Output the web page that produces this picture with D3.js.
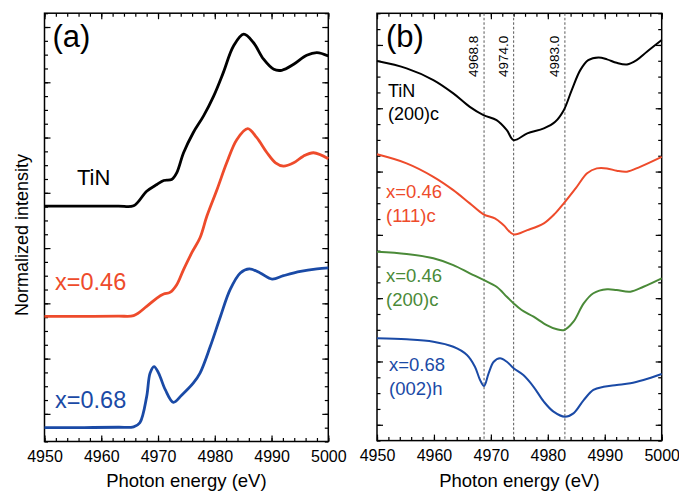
<!DOCTYPE html>
<html>
<head>
<meta charset="utf-8">
<script src="https://d3js.org/d3.v7.min.js"></script>
<style>
    body { margin: 0; background: #fff; }
    text { font-family: "Liberation Sans", Arial, sans-serif; }
</style>
</head>
<body>
<div id="my_dataviz"></div>

<script>
    // ---- data ----
    // panel (a): XANES spectra, offset for clarity
    const eTiN_a   = [4950, 4957, 4963, 4965.7, 4968.0, 4969.8, 4971.0, 4972.4, 4973.3, 4974.5, 4976.2, 4978.0, 4979.8, 4981.5, 4983.3, 4985.1, 4986.8, 4988.6, 4990.4, 4991.8, 4993.9, 4996.2, 4998.0, 5000]
    const iTiN_a   = [17.03, 17.03, 17.04, 17.06, 18.11, 18.60, 18.89, 18.96, 19.45, 20.90, 22.35, 23.55, 25.00, 26.70, 28.63, 29.48, 28.88, 27.67, 26.94, 26.87, 27.30, 27.96, 28.15, 27.90]
    const eX046_a  = [4950, 4957, 4963, 4965.7, 4968.0, 4969.8, 4971.0, 4972.1, 4973.3, 4974.5, 4976.0, 4977.4, 4978.6, 4980.4, 4982.1, 4983.9, 4985.8, 4987.4, 4989.2, 4990.7, 4992.1, 4993.9, 4995.6, 4997.4, 5000]
    const iX046_a  = [9.05, 9.06, 9.08, 9.11, 9.78, 10.38, 10.67, 10.79, 11.35, 12.44, 13.70, 14.75, 16.30, 18.24, 20.17, 21.86, 22.64, 21.99, 20.90, 20.17, 19.93, 20.17, 20.65, 20.90, 20.46]
    const eX068_a  = [4950, 4957, 4963, 4965.7, 4966.8, 4968.0, 4968.6, 4969.3, 4970.1, 4971.3, 4972.7, 4974.2, 4976.2, 4977.4, 4979.2, 4981.0, 4982.7, 4984.5, 4986.1, 4988.0, 4990.1, 4992.1, 4995.1, 4998.0, 5000]
    const iX068_a  = [1.00, 1.01, 1.03, 1.06, 1.36, 3.25, 4.95, 5.42, 4.95, 3.73, 2.84, 3.37, 4.22, 4.95, 6.87, 9.05, 10.99, 12.20, 12.49, 12.20, 11.76, 12.00, 12.31, 12.49, 12.56]

    // panel (b): polarised spectra
    const eTiN_b   = [4950, 4955.2, 4959.9, 4963.4, 4966.3, 4968.7, 4971.0, 4972.8, 4974.0, 4976.4, 4979.3, 4981.3, 4982.8, 4984.2, 4985.7, 4987.1, 4988.9, 4990.4, 4992.1, 4993.9, 4995.6, 4997.4, 5000]
    const iTiN_b   = [23.98, 23.52, 22.78, 21.94, 21.09, 20.57, 20.25, 19.62, 18.99, 19.41, 19.73, 20.15, 20.88, 22.15, 23.41, 24.04, 24.21, 24.09, 23.87, 23.77, 24.04, 24.57, 25.31]
    const e111_b   = [4950, 4955.2, 4959.9, 4963.4, 4966.3, 4968.7, 4970.7, 4972.2, 4974.0, 4976.4, 4979.3, 4981.3, 4982.8, 4985.1, 4986.9, 4988.6, 4990.4, 4992.1, 4993.9, 4996.2, 5000]
    const i111_b   = [18.09, 17.52, 16.67, 15.83, 14.99, 14.30, 14.04, 13.62, 13.03, 13.30, 13.73, 14.36, 14.99, 16.04, 16.89, 17.20, 17.20, 17.05, 16.99, 17.30, 17.93]
    const e200_b   = [4950, 4955.2, 4959.9, 4963.4, 4966.3, 4968.7, 4971.0, 4972.8, 4974.0, 4975.4, 4977.5, 4979.8, 4981.6, 4982.9, 4984.5, 4986.3, 4988.0, 4990.4, 4992.1, 4994.5, 4996.8, 5000]
    const i200_b   = [11.93, 11.79, 11.52, 11.09, 10.57, 10.15, 9.72, 9.09, 8.67, 8.25, 7.83, 7.30, 7.03, 6.99, 7.51, 8.67, 9.31, 9.56, 9.51, 9.41, 9.72, 10.25]
    const e002_b   = [4950, 4955.2, 4959.9, 4963.4, 4965.8, 4967.2, 4968.1, 4968.8, 4969.6, 4970.5, 4971.6, 4972.8, 4974.0, 4975.7, 4977.5, 4979.3, 4981.0, 4983.0, 4984.5, 4986.3, 4988.0, 4989.8, 4992.1, 4994.5, 4996.8, 5000]
    const i002_b   = [6.46, 6.40, 6.25, 5.93, 5.41, 4.67, 3.83, 3.45, 4.25, 4.98, 5.20, 4.98, 4.57, 4.14, 3.40, 2.46, 1.83, 1.51, 1.72, 2.56, 3.20, 3.40, 3.51, 3.62, 3.83, 4.21]

    // marker energies (dashed lines in panel b)
    const markers = [4968.8, 4974.0, 4983.0]
    const markerLabels = ["4968.8", "4974.0", "4983.0"]

    // axes
    const xLabelTicks = [4950, 4960, 4970, 4980, 4990, 5000]
    const xMinorTicks = d3.range(4950, 5001, 2)
    const yMaxA = 31, yMajorA = [2, 6, 10, 14, 18, 22, 26, 30]
    const yMaxB = 27, yMajorB = [1, 5, 9, 13, 17, 21, 25]

    const RED = "#ee4b2b", BLUE = "#1a4aa6", GREEN = "#4a8a38"

    const W = 679, H = 492
    const svg = d3.select("#my_dataviz").append("svg")
        .attr("width", W)
        .attr("height", H)

    // draws one framed panel and returns its scales
    function panel(left, top, w, h, yMax, yMajor) {
        const g = svg.append("g").attr("transform", "translate(" + left + "," + top + ")")
        const x = d3.scaleLinear().domain([4950, 5000]).range([0, w])
        const y = d3.scaleLinear().domain([0, yMax]).range([h, 0])
        const yMinor = d3.range(0, yMax + 1)

        function ax(axisFn, scale, vals, len, tx, ty, labels) {
            const a = axisFn(scale).tickValues(vals).tickSizeInner(-len).tickSizeOuter(0)
            if (labels) a.tickPadding(9).tickFormat(d3.format("d"))
            else a.tickFormat("")
            const s = g.append("g").attr("transform", "translate(" + tx + "," + ty + ")").call(a)
            s.select(".domain").remove()
            s.selectAll(".tick line").attr("stroke", "#000").attr("stroke-width", 1.2)
            s.selectAll("text").attr("font-size", 16).attr("fill", "#000")
                .attr("font-family", "Liberation Sans, Arial, sans-serif")
        }
        ax(d3.axisBottom, x, xLabelTicks, 6, 0, h, true)
        ax(d3.axisBottom, x, xMinorTicks, 3.5, 0, h, false)
        ax(d3.axisTop, x, xLabelTicks, 6, 0, 0, false)
        ax(d3.axisTop, x, xMinorTicks, 3.5, 0, 0, false)
        ax(d3.axisLeft, y, yMajor, 6, 0, 0, false)
        ax(d3.axisLeft, y, yMinor, 3.5, 0, 0, false)
        ax(d3.axisRight, y, yMajor, 6, w, 0, false)
        ax(d3.axisRight, y, yMinor, 3.5, w, 0, false)

        g.append("rect")
            .attr("width", w).attr("height", h)
            .attr("fill", "none").attr("stroke", "#000").attr("stroke-width", 1.5)

        g.append("text")
            .attr("x", w / 2).attr("y", h + 46)
            .attr("text-anchor", "middle")
            .attr("font-size", 18.5)
            .text("Photon energy (eV)")

        return { g: g, x: x, y: y }
    }

    function curve(p, es, is, color, width) {
        const line = d3.line()
            .x(d => p.x(d[0]))
            .y(d => p.y(d[1]))
            .curve(d3.curveCatmullRom.alpha(0.5))
        p.g.append("path")
            .datum(d3.zip(es, is))
            .attr("d", line)
            .attr("fill", "none")
            .attr("stroke", color)
            .attr("stroke-width", width)
            .attr("stroke-linejoin", "round")
    }

    function label(p, lines, color, px, py, size, gap) {
        const t = p.g.append("text")
            .attr("fill", color)
            .attr("font-size", size)
        lines.forEach((s, i) => {
            t.append("tspan").attr("x", px).attr("y", py + i * gap).text(s)
        })
    }

    // ---- panel (a) ----
    const pa = panel(44.5, 13.2, 283.8, 428.3, yMaxA, yMajorA)
    curve(pa, eTiN_a, iTiN_a, "#000", 2.8)
    curve(pa, eX046_a, iX046_a, RED, 2.8)
    curve(pa, eX068_a, iX068_a, BLUE, 2.8)
    label(pa, ["(a)"], "#000", 8, 34, 31, 0)
    label(pa, ["TiN"], "#000", 32.5, 172, 22, 0)
    label(pa, ["x=0.46"], RED, 10.5, 277, 23.5, 0)
    label(pa, ["x=0.68"], BLUE, 10.5, 395, 23.5, 0)

    // ---- panel (b) ----
    const pb = panel(377, 13.3, 284.7, 427.3, yMaxB, yMajorB)

    markers.forEach((m, i) => {
        pb.g.append("line")
            .attr("x1", pb.x(m)).attr("x2", pb.x(m))
            .attr("y1", 0).attr("y2", pb.y(0))
            .attr("stroke", "#444").attr("stroke-width", 0.9)
            .attr("stroke-dasharray", "2.5,2")
        pb.g.append("text")
            .attr("transform", "translate(" + (pb.x(m) - 6) + ",43) rotate(-90)")
            .attr("text-anchor", "middle")
            .attr("font-size", 13.5)
            .text(markerLabels[i])
    })

    curve(pb, eTiN_b, iTiN_b, "#000", 2)
    curve(pb, e111_b, i111_b, RED, 2)
    curve(pb, e200_b, i200_b, GREEN, 2)
    curve(pb, e002_b, i002_b, BLUE, 2)
    label(pb, ["(b)"], "#000", 9, 34, 31, 0)
    label(pb, ["TiN", "(200)c"], "#000", 11, 84, 18, 23)
    label(pb, ["x=0.46", "(111)c"], RED, 9, 185, 18.5, 24)
    label(pb, ["x=0.46", "(200)c"], GREEN, 9, 268.5, 18.5, 24)
    label(pb, ["x=0.68", "(002)h"], BLUE, 12, 358, 18.5, 24)

    // y label
    svg.append("text")
        .attr("transform", "translate(28,235) rotate(-90)")
        .attr("text-anchor", "middle")
        .attr("font-size", 18)
        .text("Normalized intensity")
</script>
</body>
</html>
